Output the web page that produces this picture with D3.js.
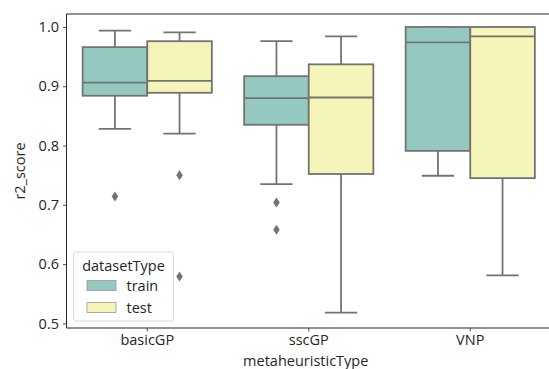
<!DOCTYPE html>
<html>
<head>
<meta charset="utf-8">
<script src="https://cdn.jsdelivr.net/npm/d3@7"></script>
<style>
  body { margin: 0; background: #fff; overflow: hidden; }
  text { font-family: "Open Sans", sans-serif; fill: #262626; }
</style>
</head>
<body>
<div id="graph"></div>
<script>
// categories and hue groups
const categories = ["basicGP", "sscGP", "VNP"];
const hues = ["train", "test"];

// box stats per category: [whiskerLow, q1, median, q3, whiskerHigh]
const trainStats = [
  [0.828, 0.884, 0.906, 0.966, 0.994],
  [0.735, 0.835, 0.880, 0.917, 0.976],
  [0.749, 0.791, 0.974, 1.000, 1.000]
];
const testStats = [
  [0.820, 0.889, 0.909, 0.976, 0.991],
  [0.518, 0.752, 0.881, 0.937, 0.984],
  [0.581, 0.745, 0.984, 1.000, 1.000]
];
const trainOutliers = [[0.714], [0.704, 0.658], []];
const testOutliers = [[0.750, 0.579], [], []];

const yTicks = [0.5, 0.6, 0.7, 0.8, 0.9, 1.0];

const fills = { train: "#95c9bf", test: "#f5f5b9" };
const lineColor = "#737373";
const fontSize = 14.5;

const W = 549, H = 369;
const margin = { top: 14, right: -2, bottom: 41, left: 66.5 };
const width = W - margin.left - margin.right;
const height = H - margin.top - margin.bottom;

const svg = d3.select("#graph").append("svg")
  .attr("width", W).attr("height", H).style("display", "block");
const g = svg.append("g")
  .attr("transform", "translate(" + margin.left + "," + margin.top + ")");

const x = d3.scaleBand().domain(categories).range([0, width]);
const xHue = d3.scaleBand().domain(hues).range([0, x.bandwidth() * 0.8]);
const y = d3.scaleLinear().domain([0.4922, 1.0219]).range([height, 0]);

// axes
const yAxis = g.append("g")
  .call(d3.axisLeft(y).tickValues(yTicks).tickFormat(d3.format(".1f")).tickSize(3.5).tickPadding(4));
const xAxis = g.append("g")
  .attr("transform", "translate(0," + height + ")")
  .call(d3.axisBottom(x).tickSize(3.5).tickPadding(3));
[yAxis, xAxis].forEach(a => {
  a.select(".domain").remove();
  a.selectAll("line").attr("stroke", "#262626").attr("stroke-width", 0.8);
  a.selectAll("text").attr("font-size", fontSize).attr("fill", "#262626")
    .style("font-family", "Open Sans, sans-serif");
});

// spines (right one falls outside the picture)
const spines = [[0, 0, width, 0], [0, 0, 0, height], [0, height, width, height]];
spines.forEach(([x1, y1, x2, y2]) => {
  g.append("line").attr("x1", x1).attr("y1", y1).attr("x2", x2).attr("y2", y2)
    .attr("stroke", "#262626").attr("stroke-width", 1);
});

const series = [
  { hue: "train", stats: trainStats, outliers: trainOutliers },
  { hue: "test", stats: testStats, outliers: testOutliers }
];

const boxW = xHue.bandwidth();
series.forEach(s => {
  categories.forEach((c, i) => {
    const [lo, q1, med, q3, hi] = s.stats[i];
    const x0 = x(c) + x.bandwidth() * 0.1 + xHue(s.hue);
    const cx = x0 + boxW / 2;
    const bg = g.append("g");
    // whiskers
    bg.append("line").attr("x1", cx).attr("x2", cx).attr("y1", y(q1)).attr("y2", y(lo))
      .attr("stroke", lineColor).attr("stroke-width", 1.8);
    bg.append("line").attr("x1", cx).attr("x2", cx).attr("y1", y(q3)).attr("y2", y(hi))
      .attr("stroke", lineColor).attr("stroke-width", 1.8);
    bg.append("line").attr("x1", cx - boxW / 4).attr("x2", cx + boxW / 4).attr("y1", y(lo)).attr("y2", y(lo))
      .attr("stroke", lineColor).attr("stroke-width", 1.8);
    bg.append("line").attr("x1", cx - boxW / 4).attr("x2", cx + boxW / 4).attr("y1", y(hi)).attr("y2", y(hi))
      .attr("stroke", lineColor).attr("stroke-width", 1.8);
    // box
    bg.append("rect").attr("x", x0).attr("y", y(q3))
      .attr("width", boxW).attr("height", y(q1) - y(q3))
      .attr("fill", fills[s.hue]).attr("stroke", lineColor).attr("stroke-width", 1.8);
    bg.append("line").attr("x1", x0).attr("x2", x0 + boxW).attr("y1", y(med)).attr("y2", y(med))
      .attr("stroke", lineColor).attr("stroke-width", 1.8);
    // outliers
    s.outliers[i].forEach(v => {
      bg.append("path")
        .attr("d", "M" + cx + "," + (y(v) - 5) + "L" + (cx + 3.3) + "," + y(v) +
          "L" + cx + "," + (y(v) + 5) + "L" + (cx - 3.3) + "," + y(v) + "Z")
        .attr("fill", lineColor);
    });
  });
});

// axis labels
svg.append("text").attr("x", margin.left + width / 2 - 3).attr("y", 366)
  .attr("text-anchor", "middle").attr("font-size", fontSize).text("metaheuristicType");
svg.append("text").attr("transform", "translate(25," + (margin.top + height / 2) + ") rotate(-90)")
  .attr("text-anchor", "middle").attr("font-size", fontSize).text("r2_score");

// legend
const lg = svg.append("g").attr("transform", "translate(73.5,252)");
lg.append("rect").attr("width", 100).attr("height", 69).attr("rx", 3)
  .attr("fill", "#fff").attr("fill-opacity", 0.8).attr("stroke", "#d9d9d9");
lg.append("text").attr("x", 50).attr("y", 19).attr("text-anchor", "middle")
  .attr("font-size", fontSize).text("datasetType");
hues.forEach((h, i) => {
  lg.append("rect").attr("x", 13.5).attr("y", 28.5 + i * 22).attr("width", 29).attr("height", 10)
    .attr("fill", fills[h]).attr("stroke", "#999").attr("stroke-width", 0.8);
  lg.append("text").attr("x", 53).attr("y", 39 + i * 22)
    .attr("font-size", fontSize).text(h);
});
</script>
</body>
</html>
